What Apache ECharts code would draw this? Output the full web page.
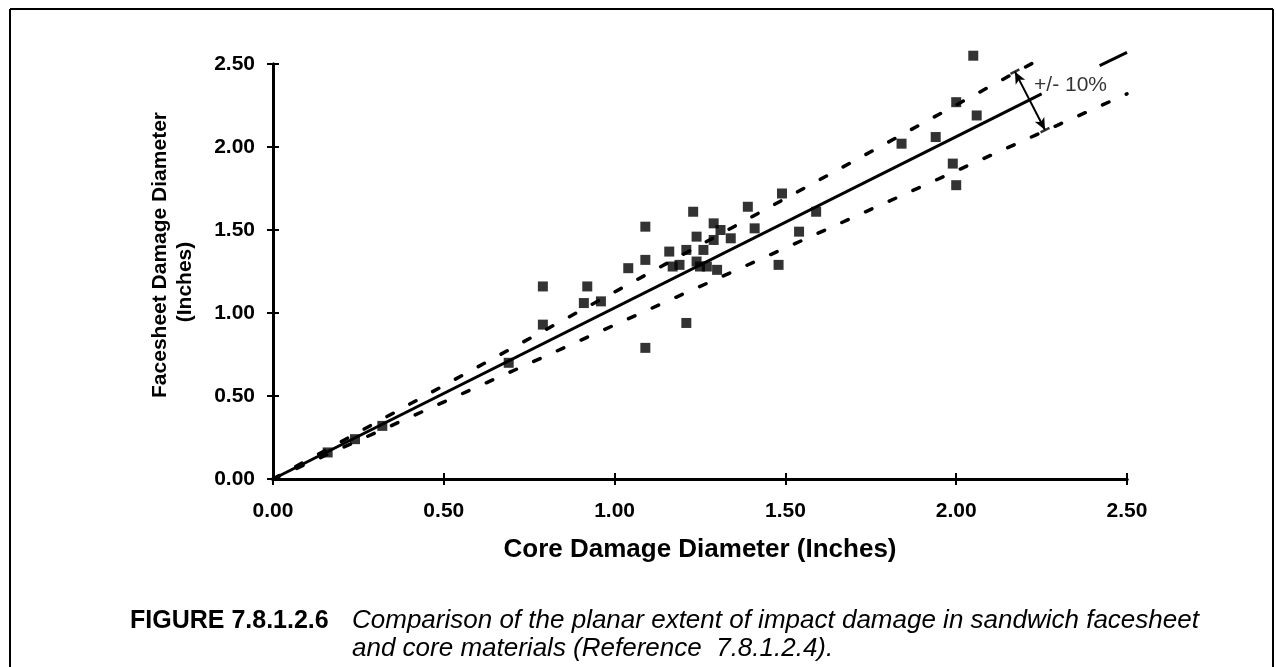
<!DOCTYPE html>
<html>
<head>
<meta charset="utf-8">
<script src="https://cdn.jsdelivr.net/npm/echarts@6/dist/echarts.min.js"></script>
<style>
html,body{margin:0;padding:0;background:#fff;}
#chart{width:1276px;height:667px;}
</style>
</head>
<body>
<div id="chart"></div>
<script>
// Core damage diameter (x) and facesheet damage diameter (y), inches
const coreDiameter = [0.16,0.24,0.32,0.69,0.79,0.79,0.91,0.92,0.96,1.04,1.09,1.09,1.09,1.16,1.17,1.19,1.21,1.21,1.23,1.24,1.24,1.25,1.26,1.27,1.29,1.29,1.30,1.31,1.34,1.39,1.41,1.48,1.49,1.54,1.59,1.84,1.94,1.99,2.00,2.00,2.06,2.05];
const facesheetDiameter = [0.16,0.24,0.32,0.70,0.93,1.16,1.06,1.16,1.07,1.27,1.32,1.52,0.79,1.37,1.28,1.29,1.38,0.94,1.61,1.46,1.31,1.28,1.38,1.28,1.54,1.44,1.26,1.50,1.45,1.64,1.51,1.29,1.72,1.49,1.61,2.02,2.06,1.90,1.77,2.27,2.19,2.55];
// Reference lines (x, y endpoints)
const fitLineA = [[0,0],[2.25,2.32]];
const fitLineB = [[2.42,2.49],[2.50,2.57]];
const upperBand = [[0,0],[2.25,2.535]];
const lowerBand = [[0,0],[2.50,2.32]];
const bandArrow = [[2.172,2.454],[2.26,2.102]];
const bandLabelPos = [2.228,2.375];
const bandLabelText = '+/- 10%';
const axisMin = 0, axisMax = 2.5, axisStep = 0.5;
const xTitle = 'Core Damage Diameter (Inches)';
const yTitle1 = 'Facesheet Damage Diameter';
const yTitle2 = '(Inches)';
const figLabel = 'FIGURE 7.8.1.2.6';
const captionLine1 = 'Comparison of the planar extent of impact damage in sandwich facesheet';
const captionLine2 = 'and core materials (Reference  7.8.1.2.4).';

const FONT = '"Liberation Sans", Arial, Helvetica, sans-serif';
const points = coreDiameter.map((x,i)=>[x, facesheetDiameter[i]]);

const chart = echarts.init(document.getElementById('chart'), null, {renderer:'canvas'});

function valueAxis(pos, show, inside){
  return {
    type:'value', min:axisMin, max:axisMax, interval:axisStep,
    position: pos,
    axisLine:{show:true, onZero:false, lineStyle:{color:'#000', width:3}},
    axisTick:{show:true, inside:inside, length:6, lineStyle:{color:'#000', width:2}},
    axisLabel:{show:show, color:'#000', fontFamily:FONT, fontWeight:'bold', fontSize:21,
      margin: pos==='left'?18:22, formatter:v=>v.toFixed(2)},
    splitLine:{show:false}
  };
}

const dashed = {color:'#000', width:3.5, type:[7,19], cap:'round'};

chart.setOption({
  animation:false,
  backgroundColor:'#fff',
  grid:{left:273, right:149, top:64, bottom:188, containLabel:false},
  xAxis:[valueAxis('bottom', true, false), valueAxis('bottom', false, true)],
  yAxis:[valueAxis('left', true, false), valueAxis('left', false, true)],
  series:[
    {type:'line', data:fitLineA, symbol:'none', clip:false, lineStyle:{color:'#000', width:3}, z:3},
    {type:'line', data:fitLineB, symbol:'none', clip:false, lineStyle:{color:'#000', width:3}, z:3},
    {type:'line', data:upperBand, symbol:'none', clip:false, lineStyle:dashed, z:3},
    {type:'line', data:lowerBand, symbol:'none', clip:false, lineStyle:dashed, z:3},
    {type:'scatter', data:points, symbol:'rect', symbolSize:10, clip:false, itemStyle:{color:'#000'}, z:4},
    {type:'line', data:[], symbol:'none',
      markLine:{silent:true, symbol:['arrow','arrow'], symbolSize:[8,12],
        lineStyle:{color:'#000', width:2, type:'solid'}, label:{show:false},
        data:[[{coord:bandArrow[0]},{coord:bandArrow[1]}]]}},
    {type:'scatter', data:bandArrow, symbol:'rect', symbolSize:[10,2.5], symbolRotate:27, clip:false,
      itemStyle:{color:'#000'}, z:5},
    {type:'scatter', data:[bandLabelPos], symbolSize:0, clip:false,
      label:{show:true, position:'right', distance:0, formatter:bandLabelText,
        color:'#000', fontFamily:FONT, fontSize:21}}
  ],
  graphic:[
    {type:'line', shape:{x1:10,y1:9,x2:1273,y2:9}, style:{stroke:'#000', lineWidth:2}},
    {type:'line', shape:{x1:10,y1:9,x2:10,y2:667}, style:{stroke:'#000', lineWidth:2}},
    {type:'line', shape:{x1:1273,y1:9,x2:1273,y2:667}, style:{stroke:'#000', lineWidth:2}},
    {type:'text', x:700, y:550, style:{text:xTitle, font:'bold 26px '+FONT, fill:'#000', align:'center', verticalAlign:'middle'}},
    {type:'text', x:160, y:255, rotation:Math.PI/2, style:{text:yTitle1, font:'bold 21px '+FONT, fill:'#000', align:'center', verticalAlign:'middle'}},
    {type:'text', x:185, y:282, rotation:Math.PI/2, style:{text:yTitle2, font:'bold 21px '+FONT, fill:'#000', align:'center', verticalAlign:'middle'}},
    {type:'text', x:130, y:621, style:{text:figLabel, font:'bold 25px '+FONT, fill:'#000', align:'left', verticalAlign:'middle'}},
    {type:'text', x:352, y:621, style:{text:captionLine1, font:'italic 26px '+FONT, fill:'#000', align:'left', verticalAlign:'middle'}},
    {type:'text', x:352, y:649, style:{text:captionLine2, font:'italic 26px '+FONT, fill:'#000', align:'left', verticalAlign:'middle'}}
  ]
});
</script>
</body>
</html>
